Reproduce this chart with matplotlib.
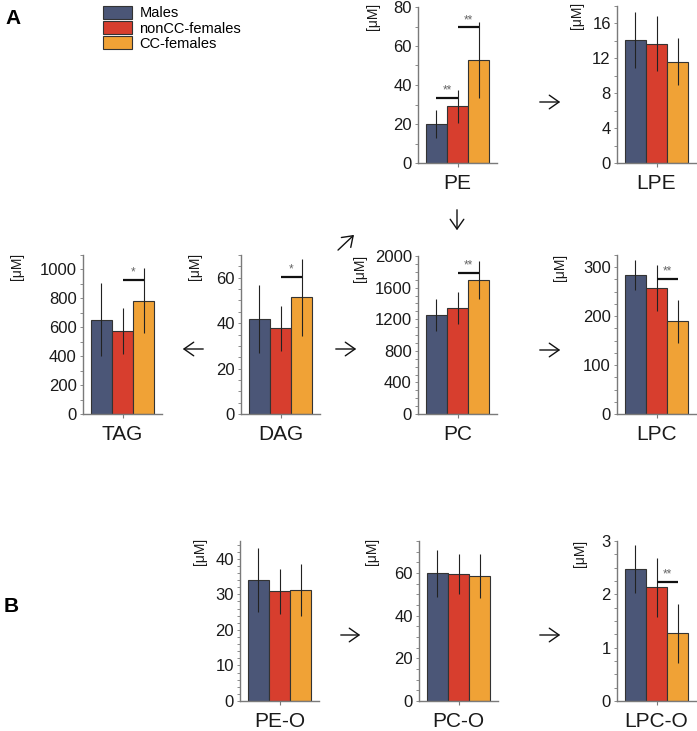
import matplotlib
matplotlib.use("Agg")
import matplotlib.pyplot as plt
from matplotlib.ticker import MultipleLocator
from matplotlib.patches import Patch

plt.rcParams['font.family'] = ['Liberation Sans', 'DejaVu Sans']

groups = ["Males", "nonCC-females", "CC-females"]
colors = ["#4b5677", "#d73e2e", "#f0a236"]

panels = ["PE", "LPE", "TAG", "DAG", "PC", "LPC", "PE-O", "PC-O", "LPC-O"]
means = {
    "PE": [20.0, 29.0, 53.0],
    "LPE": [14.1, 13.7, 11.6],
    "TAG": [653, 576, 785],
    "DAG": [42.0, 37.7, 51.3],
    "PC": [1253, 1340, 1693],
    "LPC": [284, 258, 190],
    "PE-O": [33.9, 30.8, 31.2],
    "PC-O": [59.8, 59.6, 58.5],
    "LPC-O": [2.47, 2.13, 1.27],
}
errors = {
    "PE": [7.0, 8.5, 19.5],
    "LPE": [3.2, 3.2, 2.7],
    "TAG": [250, 160, 225],
    "DAG": [15.0, 9.8, 16.9],
    "PC": [205, 200, 240],
    "LPC": [31, 47, 44],
    "PE-O": [9.0, 6.2, 7.4],
    "PC-O": [11.0, 9.3, 10.3],
    "LPC-O": [0.45, 0.55, 0.55],
}
ymax = {"PE": 80, "LPE": 18, "TAG": 1100, "DAG": 70, "PC": 2000,
        "LPC": 325, "PE-O": 45, "PC-O": 75, "LPC-O": 3}
ystep = {"PE": 20, "LPE": 4, "TAG": 200, "DAG": 20, "PC": 400,
         "LPC": 100, "PE-O": 10, "PC-O": 20, "LPC-O": 1}
ytop_tick = {"PE": 80, "LPE": 16, "TAG": 1000, "DAG": 60, "PC": 2000,
             "LPC": 300, "PE-O": 40, "PC-O": 60, "LPC-O": 3}
yminor = {"PE": 10, "LPE": 2, "TAG": 100, "DAG": 5, "PC": 100,
          "LPC": 25, "PE-O": 2, "PC-O": 5, "LPC-O": 0.25}
# significance: (panel, bar i, bar j, y, label)
sig = [("PE", 0, 1, 33.5, "**"), ("PE", 1, 2, 69.5, "**"),
       ("TAG", 1, 2, 930, "*"), ("DAG", 1, 2, 60.5, "*"),
       ("PC", 1, 2, 1785, "**"), ("LPC", 1, 2, 276, "**"),
       ("LPC-O", 1, 2, 2.23, "**")]

W, H = 697, 731
fig = plt.figure(figsize=(W / 100, H / 100), dpi=100)

# layout in pixels: left spine x, top y, bottom y
pos = {
    "PE": (418, 7, 163), "LPE": (617, 6, 163),
    "TAG": (83, 255, 414), "DAG": (241, 255, 414),
    "PC": (418, 256, 414), "LPC": (617, 255, 414),
    "PE-O": (240, 541, 701), "PC-O": (419, 541, 701), "LPC-O": (617, 541, 701),
}
ylab = {
    "PE": (373, 3), "LPE": (577, 2), "TAG": (17, 253), "DAG": (195, 253),
    "PC": (360, 255), "LPC": (560, 254), "PE-O": (200, 538),
    "PC-O": (372, 538), "LPC-O": (580, 540),
}
AW = 79
spine_c = "#7a7a7a"
for name in panels:
    l, t, b = pos[name]
    ax = fig.add_axes([l / W, 1 - b / H, AW / W, (b - t) / H])
    x = [0, 1, 2]
    ax.bar(x, means[name], width=1.0, color=colors, edgecolor="#333333",
           linewidth=0.8, zorder=2)
    ax.errorbar(x, means[name], yerr=errors[name], fmt="none",
                ecolor="#222222", elinewidth=0.8, capsize=0, zorder=3)
    ax.set_xlim(-0.88, 2.88)
    ax.set_ylim(0, ymax[name])
    ticks = []
    v = 0
    while v <= ytop_tick[name] + 1e-9:
        ticks.append(v)
        v += ystep[name]
    ax.set_yticks(ticks)
    ax.set_yticklabels([("%g" % tk) for tk in ticks])
    ax.yaxis.set_minor_locator(MultipleLocator(yminor[name]))
    ax.set_xticks([1])
    ax.set_xticklabels([name], fontsize=15)
    for s in ["top", "right"]:
        ax.spines[s].set_visible(False)
    for s in ["left", "bottom"]:
        ax.spines[s].set_color(spine_c)
        ax.spines[s].set_linewidth(1.0)
    ax.tick_params(axis="y", which="major", length=2.5, width=0.6,
                   color=spine_c, labelsize=12, pad=2, labelcolor="#1a1a1a")
    ax.tick_params(axis="y", which="minor", length=2, width=0.6, color=spine_c)
    ax.tick_params(axis="x", which="major", length=3, width=0.8,
                   color=spine_c, pad=5, labelcolor="#1a1a1a")
    for (pn, i, j, yv, lab) in sig:
        if pn != name:
            continue
        ax.plot([i, j], [yv, yv], color="#111111", lw=1.6, zorder=4,
                solid_capstyle="butt")
        ax.annotate(lab, xy=((i + j) / 2, yv), xytext=(0, 1),
                    textcoords="offset points", ha="center", va="bottom",
                    fontsize=8.5, color="#666666")
    lx, ly = ylab[name]
    fig.text(lx / W, 1 - ly / H, "[μM]", rotation=90, ha="center", va="top",
             fontsize=10, color="#1a1a1a")

# legend
handles = [Patch(facecolor=c, edgecolor="#333333", linewidth=0.8) for c in colors]
fig.legend(handles, groups, loc="upper left", bbox_to_anchor=(100 / W, 1 - 3 / H),
           frameon=False, fontsize=10.5, handlelength=2.0, handleheight=1.0,
           labelspacing=0.05, handletextpad=0.5, borderaxespad=0, borderpad=0.2)

fig.text(5 / W, 1 - 18 / H, "A", fontsize=15, fontweight="bold", va="center")
fig.text(4 / W, 1 - 607 / H, "B", fontsize=15, fontweight="bold", va="center")

# arrows (figure pixels; y measured from top)
arrows = [((537, 102), (563, 102)),
          ((457, 207), (457, 233)),
          ((336, 252), (356, 233)),
          ((206, 349), (180, 349)),
          ((333, 349), (359, 349)),
          ((537, 350), (563, 350)),
          ((338, 635), (363, 635)),
          ((537, 635), (563, 635))]
for (x0, y0), (x1, y1) in arrows:
    fig.add_artist(matplotlib.patches.FancyArrowPatch(
        (x0 / W, 1 - y0 / H), (x1 / W, 1 - y1 / H), transform=fig.transFigure,
        arrowstyle="->,head_length=5,head_width=3.5", lw=1.0, color="#111111",
        mutation_scale=1.4))

fig.savefig("out.png", dpi=100)
